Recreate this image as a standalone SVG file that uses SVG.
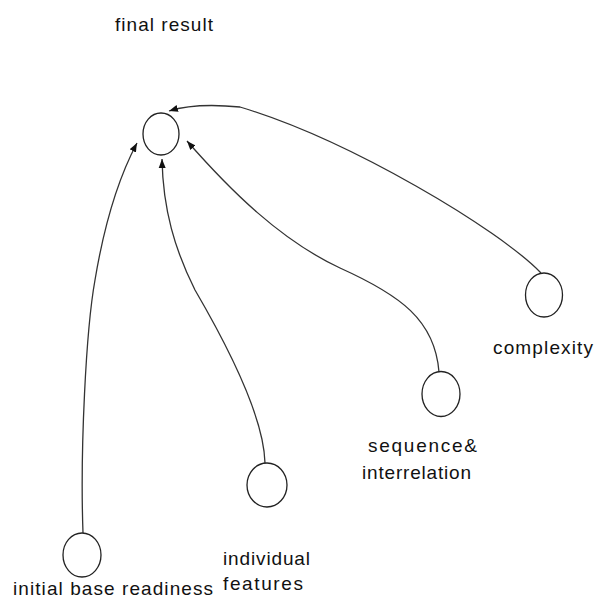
<svg xmlns="http://www.w3.org/2000/svg" width="596" height="601" viewBox="0 0 596 601">
  <defs>
    <marker id="arr" markerUnits="userSpaceOnUse" markerWidth="10" markerHeight="10" viewBox="0 0 10 10" refX="9" refY="5" orient="auto">
      <path d="M0,1.5 L9,5 L0,8.5 z" fill="#111"/>
    </marker>
    <style>
      .node ellipse { fill: #fff; stroke: #222; stroke-width: 1.3; }
      .lbl { font-family: "Liberation Sans", Arial, sans-serif; font-size: 19px; fill: #111; }
      .conn path { fill: none; stroke: #333; stroke-width: 1.3; marker-end: url(#arr); }
    </style>
  </defs>
  <rect width="596" height="601" fill="#fff"/>

  <g id="connectors" class="conn">
    <path d="M 541 273 C 500 230, 350 140, 240 107 C 210 104, 185 106, 169 111"/>
    <path d="M 439 372 C 435 320, 400 295, 340 268 C 280 240, 230 190, 187 141"/>
    <path d="M 265 463 C 264 420, 230 350, 195 290 C 175 250, 163 210, 162 159"/>
    <path d="M 83 533 C 80 450, 86 330, 95 280 C 105 220, 120 175, 137 143"/>
  </g>

  <g id="final-result" class="node">
    <ellipse cx="161" cy="134" rx="18" ry="21"/>
    <text class="lbl" x="115" y="31" textLength="98" lengthAdjust="spacing">final result</text>
  </g>
  <g id="complexity" class="node">
    <ellipse cx="544" cy="295" rx="18.5" ry="22"/>
    <text class="lbl" x="493" y="354" textLength="100" lengthAdjust="spacing">complexity</text>
  </g>
  <g id="sequence" class="node">
    <ellipse cx="441" cy="394" rx="19" ry="22.5"/>
    <text class="lbl" x="368" y="452" textLength="109" lengthAdjust="spacing">sequence&amp;</text>
    <text class="lbl" x="362" y="479" textLength="109" lengthAdjust="spacing">interrelation</text>
  </g>
  <g id="individual" class="node">
    <ellipse cx="267" cy="485" rx="20" ry="22"/>
    <text class="lbl" x="223" y="565" textLength="87" lengthAdjust="spacing">individual</text>
    <text class="lbl" x="223" y="590" textLength="80" lengthAdjust="spacing">features</text>
  </g>
  <g id="initial" class="node">
    <ellipse cx="82" cy="555" rx="19" ry="22"/>
    <text class="lbl" x="13" y="595" textLength="200" lengthAdjust="spacing">initial base readiness</text>
  </g>
</svg>
